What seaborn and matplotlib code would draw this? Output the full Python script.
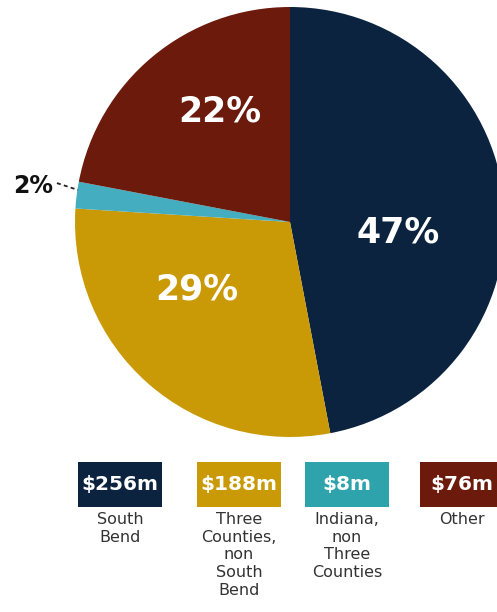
import matplotlib
matplotlib.use("Agg")
import matplotlib.pyplot as plt
from matplotlib.patches import Rectangle
import seaborn as sns

# Spending by location
categories = ["South\nBend", "Three\nCounties,\nnon\nSouth\nBend",
              "Indiana,\nnon\nThree\nCounties", "Other"]
amounts = ["$256m", "$188m", "$8m", "$76m"]
shares = [47, 29, 2, 22]
colors = ["#0c2340", "#c99a06", "#45adc0", "#6b1a0c"]
legend_colors = ["#0c2340", "#c99a06", "#2ea3ab", "#6b1a0c"]

sns.set_theme(style="white")
plt.rcParams["font.family"] = ["DejaVu Sans"]

W, H, DPI = 497, 612, 100
fig = plt.figure(figsize=(W / DPI, H / DPI), dpi=DPI)
fig.patch.set_facecolor("white")

# Pie axes spans the whole figure; data units scaled so radius 1 = R px
R = 215.0
cx, cy = 290.0, 222.0  # centre in pixels from top-left
ax = fig.add_axes([0, 0, 1, 1])

wedges, _ = ax.pie(shares, colors=sns.color_palette(colors), startangle=90,
                   counterclock=False, radius=1.0,
                   wedgeprops=dict(linewidth=0))
ax.set_aspect("auto")
ax.set_xlim(-cx / R, (W - cx) / R)
ax.set_ylim(-(H - cy) / R, cy / R)
ax.axis("off")

label_pos = [(0.502, -0.047), (-0.433, -0.316), None, (-0.326, 0.512)]
for share, pos in zip(shares, label_pos):
    if pos is None:
        continue
    ax.text(pos[0], pos[1], f"{share}%", color="white", fontsize=25,
            fontweight="bold", ha="center", va="center")

# small slice label with dashed leader
ax.text(-1.195, 0.167, f"{shares[2]}%", color="#111111", fontsize=17,
        fontweight="bold", ha="center", va="center")
ax.plot([-1.084, -0.986], [0.181, 0.149], color="#222222", lw=1.3,
        ls=(0, (2.2, 1.8)))

# legend boxes with amounts and category names
box_x = [78, 197, 305, 420]
box_w, box_top, box_h = 84, 462, 45
for x0, col, amt, cat in zip(box_x, legend_colors, amounts, categories):
    fx, fy = x0 / W, 1 - (box_top + box_h) / H
    fig.patches.append(Rectangle((fx, fy), box_w / W, box_h / H,
                                 transform=fig.transFigure,
                                 facecolor=col, edgecolor="none"))
    xc = (x0 + box_w / 2) / W
    fig.text(xc, 1 - (box_top + box_h / 2) / H, amt, color="white",
             fontsize=14.5, fontweight="bold", ha="center", va="center")
    fig.text(xc, 1 - 512 / H, cat, color="#333333", fontsize=11.5,
             ha="center", va="top", linespacing=1.22)

fig.savefig("out.png", dpi=DPI, facecolor="white")
